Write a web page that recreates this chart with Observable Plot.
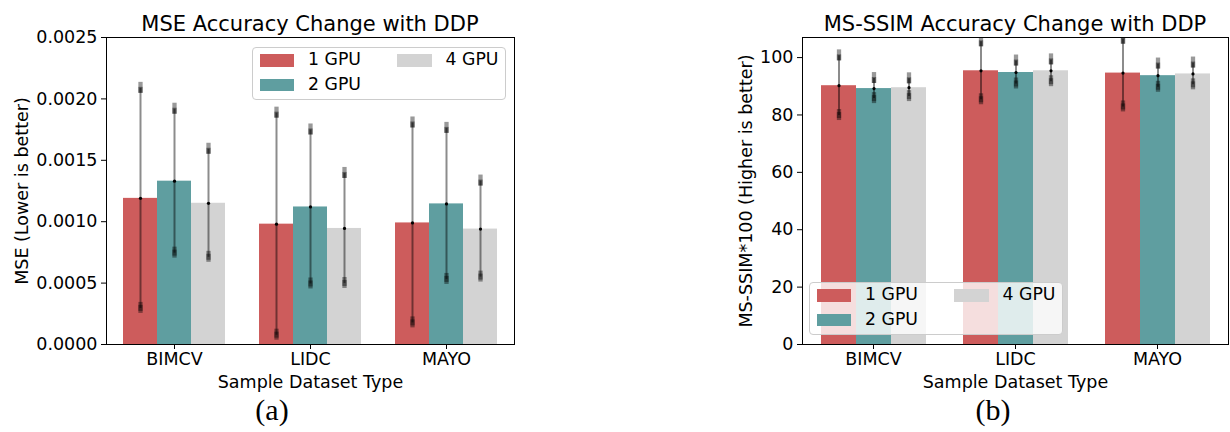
<!DOCTYPE html>
<html>
<head>
<meta charset="utf-8">
<script src="https://cdn.jsdelivr.net/npm/d3@7"></script>
<script src="https://cdn.jsdelivr.net/npm/@observablehq/plot@0.6"></script>
<style>
  html, body { margin: 0; padding: 0; background: #fff; }
  #root { position: relative; width: 1230px; height: 432px; overflow: hidden; background: #fff; font-family: "DejaVu Sans", sans-serif; color: #000; }
  .abs { position: absolute; }
  .title { font-size: 21px; line-height: 1; text-align: center; white-space: nowrap; }
  .cap { font-family: "Liberation Serif", serif; font-size: 30px; line-height: 1; text-align: center; }
  .legend { position: absolute; background: rgba(255,255,255,0.8); border: 1px solid #cccccc; border-radius: 4px; box-sizing: border-box; }
  .sw { position: absolute; width: 34.5px; height: 12.5px; }
  .lt { position: absolute; font-size: 17.3px; line-height: 1; white-space: nowrap; }
</style>
</head>
<body>
<div id="root"></div>
<script>
// ---- data ----
const datasets = ["BIMCV", "LIDC", "MAYO"];
const gpus = ["1 GPU", "2 GPU", "4 GPU"];
const colors = ["indianred", "cadetblue", "lightgray"];

// MSE mean per GPU count (index follows datasets)
const mse1 = [0.00119, 0.00098, 0.00099];
const mse2 = [0.00133, 0.00112, 0.001145];
const mse4 = [0.00115, 0.000945, 0.00094];
// MSE error-bar half length
const mseErr1 = [0.000896, 0.000904, 0.000814];
const mseErr2 = [0.000586, 0.000627, 0.000615];
const mseErr4 = [0.00044, 0.000448, 0.000391];

// MS-SSIM*100 mean per GPU count
const ssim1 = [90.2, 95.4, 94.6];
const ssim2 = [89.2, 94.8, 93.7];
const ssim4 = [89.5, 95.4, 94.3];
// MS-SSIM*100 error-bar half length
const ssimErr1 = [10.4, 10.1, 11.8];
const ssimErr2 = [3.5, 4.0, 4.05];
const ssimErr4 = [3.1, 3.8, 3.8];

const mseTicks = [0, 0.0005, 0.001, 0.0015, 0.002, 0.0025];
const ssimTicks = [0, 20, 40, 60, 80, 100];
const mseDomain = [0, 0.0025];
const ssimDomain = [0, 107];

// ---- build ----
function rowsOf(means, errs) {
  const rows = [];
  datasets.forEach((d, i) => gpus.forEach((g, j) => rows.push({dataset: d, gpu: g, mean: means[j][i], err: errs[j][i]})));
  return rows;
}

function chart({rows, domain, ticks, fmt, ylabel, width, marginLeft, marginRight, yLabelOffset}) {
  const lo = d => d.mean - d.err, hi = d => d.mean + d.err;
  const capStyle = {fx: "dataset", x: "gpu", stroke: "black", strokeOpacity: 0.4, strokeWidth: 4.3, clip: true};
  return Plot.plot({
    width, height: 432,
    marginLeft, marginRight, marginTop: 37, marginBottom: 88,
    style: {fontFamily: "DejaVu Sans", fontSize: "17.5px", color: "black", background: "transparent", overflow: "visible"},
    fx: {domain: datasets, padding: 0, label: "Sample Dataset Type", labelAnchor: "center", labelOffset: 43, tickSize: 5, tickPadding: 3, labelArrow: "none"},
    x: {domain: gpus, paddingInner: 0, paddingOuter: 0.5, axis: null},
    y: {domain, ticks, tickFormat: fmt, label: ylabel, labelAnchor: "center", labelOffset: yLabelOffset, tickSize: 5, tickPadding: 4, labelArrow: "none"},
    color: {domain: gpus, range: colors},
    marks: [
      Plot.barY(rows, {fx: "dataset", x: "gpu", y: "mean", fill: "gpu"}),
      Plot.ruleX(rows, {fx: "dataset", x: "gpu", y1: lo, y2: hi, stroke: "black", strokeOpacity: 0.45, strokeWidth: 2, clip: true}),
      Plot.ruleX(rows, {...capStyle, y1: hi, y2: hi, insetTop: -6, insetBottom: -5}),
      Plot.ruleX(rows, {...capStyle, y1: hi, y2: hi, insetTop: -1, insetBottom: -5}),
      Plot.ruleX(rows, {...capStyle, y1: lo, y2: lo, insetTop: -6, insetBottom: -5}),
      Plot.ruleX(rows, {...capStyle, y1: lo, y2: lo, insetTop: -3, insetBottom: -3}),
      Plot.dot(rows, {fx: "dataset", x: "gpu", y: "mean", r: 1.6, fill: "black", stroke: null}),
      Plot.frame({facet: "super", stroke: "black", strokeWidth: 1})
    ]
  });
}

const root = document.getElementById("root");

function place(el, left, top) {
  el.style.position = "absolute";
  el.style.left = left + "px";
  el.style.top = top + "px";
  root.appendChild(el);
}

function addText(cls, text, left, top, width) {
  const d = document.createElement("div");
  d.className = "abs " + cls;
  d.textContent = text;
  d.style.left = left + "px";
  d.style.top = top + "px";
  d.style.width = width + "px";
  root.appendChild(d);
}

function addLegend(left, top) {
  const box = document.createElement("div");
  box.className = "legend";
  box.style.left = left + "px";
  box.style.top = top + "px";
  box.style.width = "254px";
  box.style.height = "53px";
  const pos = [[6.5, 6], [6.5, 30.5], [144, 6]];
  gpus.forEach((g, i) => {
    const [x, y] = pos[i];
    const s = document.createElement("div");
    s.className = "sw";
    s.style.left = x + "px"; s.style.top = y + "px";
    s.style.background = colors[i];
    box.appendChild(s);
    const t = document.createElement("div");
    t.className = "lt";
    t.textContent = g;
    t.style.left = (x + 48.5) + "px"; t.style.top = (y - 2.6) + "px";
    box.appendChild(t);
  });
  root.appendChild(box);
}

const c1 = chart({
  rows: rowsOf([mse1, mse2, mse4], [mseErr1, mseErr2, mseErr4]),
  domain: mseDomain, ticks: mseTicks, fmt: d => d.toFixed(4),
  ylabel: "MSE (Lower is better)", width: 520, marginLeft: 106, marginRight: 6, yLabelOffset: 91
});
place(c1, 0, 0);

const c2 = chart({
  rows: rowsOf([ssim1, ssim2, ssim4], [ssimErr1, ssimErr2, ssimErr4]),
  domain: ssimDomain, ticks: ssimTicks, fmt: d => String(d),
  ylabel: "MS-SSIM*100 (Higher is better)", width: 530, marginLeft: 101, marginRight: 2, yLabelOffset: 63
});
place(c2, 700, 0);

addText("title", "MSE Accuracy Change with DDP", 110, 14, 400);
addText("title", "MS-SSIM Accuracy Change with DDP", 815, 14, 400);
addLegend(252, 47);
addLegend(809, 282);
addText("cap", "(a)", 222, 395, 100);
addText("cap", "(b)", 943, 395, 100);
</script>
</body>
</html>
